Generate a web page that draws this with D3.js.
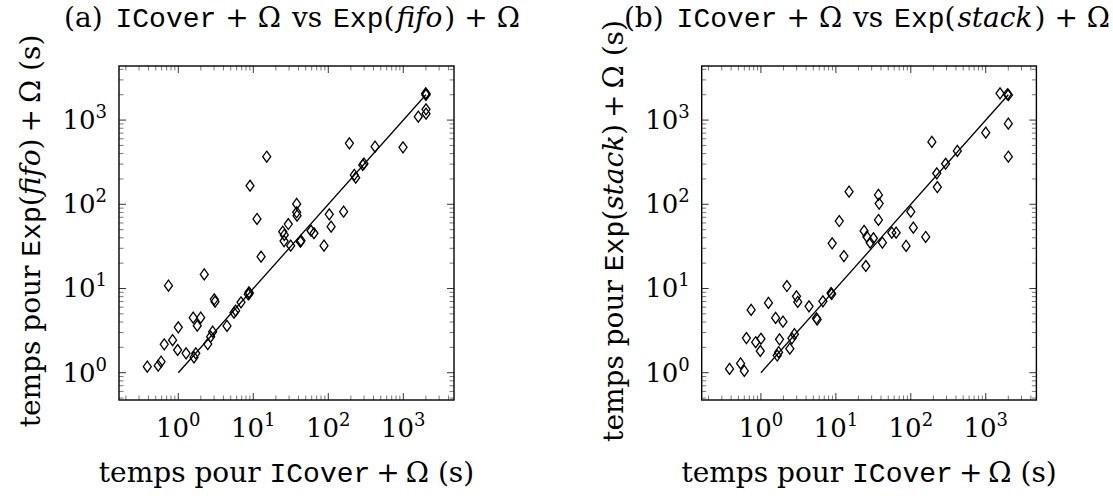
<!DOCTYPE html>
<html>
<head>
<meta charset="utf-8">
<script src="https://cdn.jsdelivr.net/npm/d3@7"></script>
<style>
  body { margin: 0; background: #fff; }
  text { font-family: "DejaVu Serif", serif; fill: #000; }
  .mono { font-family: "Liberation Mono", "DejaVu Sans Mono", monospace; }
</style>
</head>
<body>
<div id="vis"></div>
<script>
// ICover + Omega times (x) vs Exp(...) + Omega times (y), seconds
const fifoX = [0.386, 0.54, 0.59, 0.65, 0.74, 0.84, 0.98, 1.0, 1.27, 1.62, 1.71, 1.58, 1.79, 1.99, 2.22,
    2.47, 2.70, 2.87, 3.02, 3.09, 4.46, 5.53, 5.82, 6.86, 8.58, 8.85, 8.75, 9.04, 11.2, 12.7, 15.1,
    24.7, 25.7, 25.9, 29.3, 31.5, 37.9, 37.9, 38.3, 42.4, 43.3, 58.8, 64.4, 87.7, 103, 109, 160,
    191, 222, 232, 288, 299, 420, 991, 1585, 1990, 2000, 2020, 2009, 2009];
const fifoY = [1.18, 1.21, 1.35, 2.17, 10.8, 2.43, 1.86, 3.46, 1.70, 1.52, 1.70, 4.50, 3.61, 4.50, 14.7,
    2.19, 2.68, 3.07, 7.45, 6.97, 3.59, 5.16, 5.45, 6.86, 8.53, 8.77, 9.0, 166, 66.9, 23.9, 367,
    47.3, 36.6, 43.2, 58.3, 32.2, 101, 80.4, 73.2, 36.0, 37.0, 48.5, 45.3, 32.2, 76.1, 54.2, 81.7,
    530, 223, 207, 293, 304, 483, 475, 1097, 2081, 1990, 2040, 1344, 1191];

const stackX = [0.381, 0.535, 0.60, 0.64, 0.74, 0.85, 1.0, 0.98, 1.26, 1.57, 1.65, 1.72, 1.77, 1.97, 2.22,
    2.43, 2.59, 2.80, 2.98, 3.10, 4.38, 5.51, 5.63, 6.71, 8.61, 8.80, 8.93, 11.1, 12.8, 15.0,
    23.8, 25.1, 25.9, 28.7, 31.7, 37.0, 37.8, 37.0, 41.8, 55.8, 63.7, 86.5, 100, 108, 158,
    191, 222, 226, 291, 418, 1000, 1552, 1941, 2010, 2001, 2001];
const stackY = [1.11, 1.29, 1.05, 2.58, 5.56, 2.30, 2.53, 1.81, 6.73, 4.47, 1.60, 1.75, 2.49, 4.03, 10.7,
    1.93, 2.56, 2.87, 8.08, 6.92, 6.15, 4.43, 4.28, 7.05, 8.84, 8.6, 34.4, 63.3, 24.3, 141,
    48.2, 18.5, 41.2, 35.0, 39.5, 129, 102, 65.1, 35.0, 46.0, 46.0, 32.0, 81.7, 52.7, 40.9,
    550, 233, 160, 303, 430, 708, 2081, 2025, 1990, 906, 367];

// reference line y = x
const refLine = [1, 2000];

const xTicks = [1, 10, 100, 1000];
const yTicks = [1, 10, 100, 1000];

const W = 1113, H = 496;
const plotTop = 66, plotBottom = 400;
const fs = 26, lfs = 28;

const svg = d3.select('#vis').append('svg')
    .attr('width', W)
    .attr('height', H);

// text with TeX-like wide spacing around binary operators
function mathText(sel, parts) {
    parts.forEach(p => {
        const t = sel.append('tspan').text(p.t);
        if (p.cls) t.attr('class', p.cls);
        if (p.it) t.attr('font-style', 'italic');
        if (p.dx) t.attr('dx', p.dx);
    });
}

function drawPanel(left, right, xs, ys, title, labelMath, titleX) {
    const x = d3.scaleLog().domain([0.162, 4742]).range([left, right]);
    const y = d3.scaleLog().domain([0.474, 4388]).range([plotBottom, plotTop]);
    const g = svg.append('g');

    // minor + major ticks on all four sides
    const minorX = [], minorY = [];
    for (let e = -1; e <= 3; e++) {
        for (let m = 1; m <= 9; m++) {
            const v = m * Math.pow(10, e);
            if (v > x.domain()[0] && v < x.domain()[1]) minorX.push({ v, major: m === 1 });
            if (v > y.domain()[0] && v < y.domain()[1]) minorY.push({ v, major: m === 1 });
        }
    }
    const tl = d => d.major ? 7 : 4.5;
    const tc = d => d.major ? '#000' : '#555';
    g.selectAll('.xtb').data(minorX).enter().append('line')
        .attr('x1', d => x(d.v)).attr('x2', d => x(d.v))
        .attr('y1', plotBottom).attr('y2', d => plotBottom - tl(d))
        .attr('stroke', tc).attr('stroke-width', 0.8);
    g.selectAll('.xtt').data(minorX).enter().append('line')
        .attr('x1', d => x(d.v)).attr('x2', d => x(d.v))
        .attr('y1', plotTop).attr('y2', d => plotTop + tl(d))
        .attr('stroke', tc).attr('stroke-width', 0.8);
    g.selectAll('.ytl').data(minorY).enter().append('line')
        .attr('y1', d => y(d.v)).attr('y2', d => y(d.v))
        .attr('x1', left).attr('x2', d => left + tl(d))
        .attr('stroke', tc).attr('stroke-width', 0.8);
    g.selectAll('.ytr').data(minorY).enter().append('line')
        .attr('y1', d => y(d.v)).attr('y2', d => y(d.v))
        .attr('x1', right).attr('x2', d => right - tl(d))
        .attr('stroke', tc).attr('stroke-width', 0.8);

    // frame
    g.append('rect')
        .attr('x', left).attr('y', plotTop)
        .attr('width', right - left).attr('height', plotBottom - plotTop)
        .attr('fill', 'none').attr('stroke', '#000').attr('stroke-width', 1.4);

    // tick labels
    const pow = d => Math.round(Math.log10(d));
    const xl = g.selectAll('.xl').data(xTicks).enter().append('text')
        .attr('x', d => x(d)).attr('y', 437)
        .attr('text-anchor', 'middle').attr('font-size', fs);
    xl.append('tspan').text('10');
    xl.append('tspan').attr('dy', -11).attr('font-size', 18).text(d => pow(d));

    const yl = g.selectAll('.yl').data(yTicks).enter().append('text')
        .attr('x', left - 12).attr('y', d => y(d) + 9)
        .attr('text-anchor', 'end').attr('font-size', fs);
    yl.append('tspan').text('10');
    yl.append('tspan').attr('dy', -11).attr('font-size', 18).text(d => pow(d));

    // y = x line
    g.append('line')
        .attr('x1', x(refLine[0])).attr('y1', y(refLine[0]))
        .attr('x2', x(refLine[1])).attr('y2', y(refLine[1]))
        .attr('stroke', '#000').attr('stroke-width', 1.3);

    // diamond marks
    const pts = xs.map((v, i) => [v, ys[i]]);
    g.selectAll('.pt').data(pts).enter().append('path')
        .attr('d', 'M0,-5.5L4,0L0,5.5L-4,0Z')
        .attr('transform', d => `translate(${x(d[0])},${y(d[1])})`)
        .attr('fill', 'none').attr('stroke', '#000').attr('stroke-width', 1.3);

    const cx = (left + right) / 2;

    // x axis label
    const xt = g.append('text').attr('x', cx).attr('y', 482)
        .attr('text-anchor', 'middle').attr('font-size', lfs);
    mathText(xt, [
        { t: 'temps pour ' }, { t: 'ICover', cls: 'mono' },
        { t: '+', dx: 6 }, { t: 'Ω', dx: 6 }, { t: ' (s)' }
    ]);

    // y axis label
    const yt = g.append('text')
        .attr('transform', `translate(${left - 79},${(plotTop + plotBottom) / 2 - 2}) rotate(-90)`)
        .attr('text-anchor', 'middle').attr('font-size', lfs);
    mathText(yt, [
        { t: 'temps pour ' }, { t: 'Exp', cls: 'mono' }, { t: '(' },
        { t: labelMath, it: true }, { t: ')' },
        { t: '+', dx: 6 }, { t: 'Ω', dx: 6 }, { t: ' (s)' }
    ]);

    // title
    const tt = g.append('text').attr('x', titleX).attr('y', 27)
        .attr('text-anchor', 'middle').attr('font-size', lfs);
    mathText(tt, [
        { t: title + ' ' }, { t: 'ICover', cls: 'mono', dx: 4 },
        { t: '+', dx: 9 }, { t: 'Ω', dx: 9 }, { t: ' vs ', dx: 2 },
        { t: 'Exp', cls: 'mono', dx: 2 }, { t: '(' },
        { t: labelMath, it: true, dx: 2 }, { t: ')', dx: 2 },
        { t: '+', dx: 9 }, { t: 'Ω', dx: 9 }
    ]);
}

drawPanel(119, 454, fifoX, fifoY, '(a)', 'fifo', 292);
drawPanel(701.7, 1036.4, stackX, stackY, '(b)', 'stack', 867);
</script>
</body>
</html>
